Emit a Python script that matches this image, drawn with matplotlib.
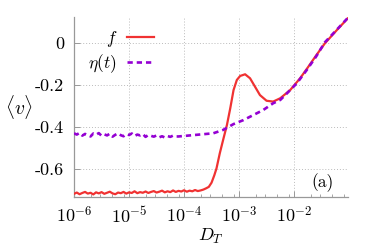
import matplotlib
matplotlib.use("Agg")
import matplotlib.pyplot as plt
import matplotlib.ticker as mticker
import numpy as np

plt.rcParams['font.family'] = 'cmr10'
plt.rcParams['mathtext.fontset'] = 'cm'
plt.rcParams['axes.formatter.use_mathtext'] = True

# f : noisy plateau, then the bump
f_flat = [-0.718, -0.712, -0.720, -0.714, -0.709, -0.717, -0.713, -0.721, -0.711, -0.716,
          -0.710, -0.718, -0.713, -0.708, -0.716, -0.720, -0.712, -0.715, -0.709, -0.717,
          -0.711, -0.714, -0.706, -0.715, -0.710, -0.713, -0.707, -0.714, -0.709, -0.705,
          -0.712, -0.708, -0.703, -0.711, -0.706, -0.710, -0.702, -0.709, -0.704, -0.707,
          -0.701, -0.708, -0.703, -0.706, -0.700, -0.705, -0.702, -0.698, -0.692]
f_logx = [-3.55, -3.50, -3.45, -3.41, -3.35, -3.29, -3.22, -3.16, -3.10, -3.04, -2.98, -2.89,
          -2.80, -2.71, -2.62, -2.50, -2.38, -2.25, -2.07, -1.89, -1.74, -1.60, -1.44, -1.22, -1.02]
f_vals = [-0.685, -0.665, -0.630, -0.597, -0.525, -0.462, -0.390, -0.311, -0.224, -0.176, -0.157,
          -0.149, -0.168, -0.208, -0.248, -0.275, -0.279, -0.263, -0.224, -0.168, -0.113, -0.060,
          -0.002, 0.062, 0.118]

# eta(t)
eta_flat = [-0.430, -0.436, -0.428, -0.441, -0.433, -0.438, -0.445, -0.431, -0.437, -0.429,
            -0.442, -0.435, -0.440, -0.432, -0.446, -0.437, -0.430, -0.439, -0.444, -0.434,
            -0.438, -0.431, -0.443, -0.436, -0.440, -0.433, -0.447, -0.438, -0.442, -0.446,
            -0.440, -0.449, -0.444, -0.450, -0.443, -0.447, -0.441, -0.445]
eta_logx = [-4.10, -3.47, -3.29, -3.10, -2.92, -2.74, -2.56, -2.38, -2.25, -2.13, -1.95, -1.77,
            -1.60, -1.44, -1.22, -1.02]
eta_vals = [-0.445, -0.430, -0.414, -0.386, -0.367, -0.343, -0.319, -0.287, -0.271, -0.240,
            -0.192, -0.129, -0.065, 0.003, 0.064, 0.120]

yticks = [0, -0.2, -0.4, -0.6]
ytick_labels = ['0', '-0.2', '-0.4', '-0.6']
xticks = [1e-6, 1e-5, 1e-4, 1e-3, 1e-2]
xtick_labels = [r'$10^{-6}$', r'$10^{-5}$', r'$10^{-4}$', r'$10^{-3}$', r'$10^{-2}$']

xf = np.concatenate([np.logspace(-6, -3.6, len(f_flat)), 10.0 ** np.array(f_logx)])
yf = np.concatenate([f_flat, f_vals])
xe = np.concatenate([np.logspace(-6, -4.15, len(eta_flat)), 10.0 ** np.array(eta_logx)])
ye = np.concatenate([eta_flat, eta_vals])

fig = plt.figure(figsize=(3.74, 2.49), dpi=100)
ax = fig.add_axes([0.198, 0.209, 0.732, 0.723])

ax.plot(xf, yf, color='#f03232', lw=1.6, label=r'$f$', zorder=3)
ax.plot(xe, ye, color='#9400d3', lw=1.9, ls=(0, (2.0, 1.5)), label=r'$\eta(t)$', zorder=4)

ax.set_xscale('log')
ax.set_xlim(1e-6, 0.095)
ax.set_ylim(-0.733, 0.124)
ax.set_xticks(xticks)
ax.set_xticklabels(xtick_labels)
ax.set_yticks(yticks)
ax.set_yticklabels(ytick_labels)
ax.xaxis.set_minor_locator(mticker.LogLocator(base=10, subs=(2, 3, 5, 8), numticks=20))
ax.xaxis.set_minor_formatter(mticker.NullFormatter())

for s in ['top', 'right']:
    ax.spines[s].set_visible(False)
for s in ['left', 'bottom']:
    ax.spines[s].set_color('#999999')
    ax.spines[s].set_linewidth(0.9)

ax.tick_params(which='major', direction='in', length=4, width=0.7, color='#999999',
               labelsize=13, pad=6)
ax.tick_params(axis='y', pad=7)
ax.tick_params(which='minor', direction='in', length=2, width=0.6, color='#999999')
ax.grid(True, which='major', ls=(0, (1, 2)), color='#bbbbbb', lw=0.7)

ax.set_ylabel(r'$\langle v\rangle$', fontsize=14, rotation=0, va='center')
ax.yaxis.set_label_coords(-0.2, 0.5)
ax.set_xlabel(r'$D_T$', fontsize=13, labelpad=1)

ax.legend(loc='upper left', bbox_to_anchor=(-0.005, 1.02), frameon=False, markerfirst=False,
          fontsize=12.5, handlelength=1.5, handletextpad=0.6, labelspacing=0.2)
ax.text(0.909, 0.08, '(a)', transform=ax.transAxes, fontsize=12.5, ha='center', va='center')

fig.savefig('out.png', dpi=100)
